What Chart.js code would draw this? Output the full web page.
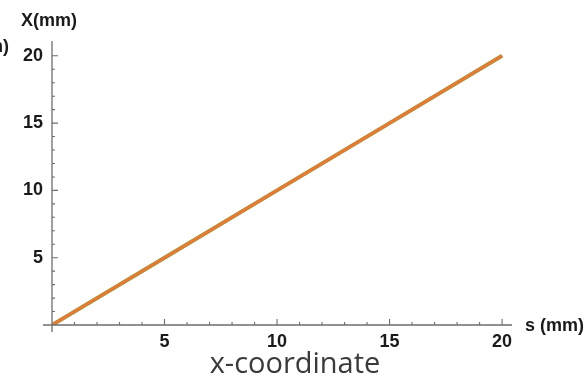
<!DOCTYPE html>
<html>
<head>
<meta charset="utf-8">
<title>x-coordinate</title>
<script src="https://cdn.jsdelivr.net/npm/chart.js@4"></script>
<style>
  html, body { margin: 0; padding: 0; background: #fff; }
  #wrap { position: relative; width: 585px; height: 383px; overflow: hidden; }
  #caption { position: absolute; left: 0; width: 590px; top: 342px; text-align: center;
             font-family: "Open Sans", sans-serif; font-size: 29px; color: #3a3a3a; }
</style>
</head>
<body>
<div id="wrap">
  <canvas id="myChart" width="585" height="383"></canvas>
  <div id="caption">x-coordinate</div>
</div>
<script>
// data: X follows s one to one
const sValues = [0, 5, 10, 15, 20];
const xGreen = [0, 5, 10, 15, 20];
const xOrange = [0, 5, 10, 15, 20];
const majorTicks = [5, 10, 15, 20];
const minorTicks = [1, 2, 3, 4, 6, 7, 8, 9, 11, 12, 13, 14, 16, 17, 18, 19];

const axisColor = '#6e6e6e';
const fontFamily = '"Liberation Sans", Arial, sans-serif';
const labelFont = 'bold 18px ' + fontFamily;

// axes crossing at the origin with inward ticks, like Mathematica
const axesPlugin = {
    id: 'axes',
    afterDraw(chart) {
        const ctx = chart.ctx;
        const xs = chart.scales.x, ys = chart.scales.y;
        const x0 = xs.getPixelForValue(0), y0 = ys.getPixelForValue(0);
        ctx.save();
        ctx.strokeStyle = axisColor;
        ctx.lineWidth = 1.3;
        ctx.beginPath();
        ctx.moveTo(x0 - 9, y0); ctx.lineTo(xs.right, y0);
        ctx.moveTo(x0, y0 + 7); ctx.lineTo(x0, ys.top);
        ctx.stroke();
        ctx.lineWidth = 1.1;
        ctx.beginPath();
        majorTicks.forEach(v => {
            const px = xs.getPixelForValue(v), py = ys.getPixelForValue(v);
            ctx.moveTo(px, y0); ctx.lineTo(px, y0 - 6);
            ctx.moveTo(x0, py); ctx.lineTo(x0 + 6, py);
        });
        minorTicks.forEach(v => {
            const px = xs.getPixelForValue(v), py = ys.getPixelForValue(v);
            ctx.moveTo(px, y0); ctx.lineTo(px, y0 - 3);
            ctx.moveTo(x0, py); ctx.lineTo(x0 + 3, py);
        });
        ctx.stroke();

        // axis labels
        ctx.fillStyle = '#1a1a1a';
        ctx.font = labelFont;
        ctx.textBaseline = 'middle';
        ctx.textAlign = 'left';
        ctx.fillText('X(mm)', 21, 21);
        ctx.fillText('s (mm)', xs.right + 13, y0 + 1);
        ctx.textAlign = 'right';
        ctx.fillText('(mm)', 9, 47);
        ctx.restore();
    }
};

const ctx = document.getElementById('myChart').getContext('2d');
const chart = new Chart(ctx, {
    type: 'line',
    data: {
        labels: sValues,
        datasets: [{
            label: 'green',
            data: sValues.map((s, i) => ({ x: s, y: xGreen[i] })),
            borderColor: '#8da33c',
            borderWidth: 4,
            pointRadius: 0,
            order: 2
        }, {
            label: 'orange',
            data: sValues.map((s, i) => ({ x: s, y: xOrange[i] })),
            borderColor: '#e57a37',
            borderWidth: 3,
            pointRadius: 0,
            order: 1
        }]
    },
    options: {
        responsive: false,
        animation: false,
        layout: { padding: { top: 41, right: 73, left: 0, bottom: 0 } },
        plugins: { legend: { display: false }, tooltip: { enabled: false } },
        scales: {
            x: {
                type: 'linear',
                min: 0,
                max: 20.44,
                afterFit: s => { s.height = 58; },
                afterBuildTicks: s => { s.ticks = majorTicks.map(v => ({ value: v })); },
                grid: { display: false, drawTicks: false },
                border: { display: false },
                ticks: {
                    padding: 6,
                    color: '#1a1a1a',
                    font: { family: fontFamily, size: 18, weight: 'bold' },
                    maxRotation: 0
                }
            },
            y: {
                type: 'linear',
                min: 0,
                max: 21.1,
                afterFit: s => { s.width = 52; },
                afterBuildTicks: s => { s.ticks = majorTicks.map(v => ({ value: v })); },
                grid: { display: false, drawTicks: false },
                border: { display: false },
                ticks: {
                    padding: 9,
                    color: '#1a1a1a',
                    font: { family: fontFamily, size: 18, weight: 'bold' }
                }
            }
        }
    },
    plugins: [axesPlugin]
});
</script>
</body>
</html>
